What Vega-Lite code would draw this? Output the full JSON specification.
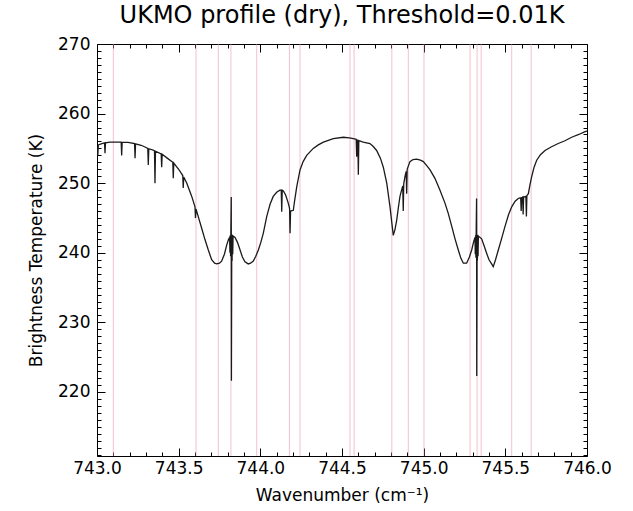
{
  "$schema": "https://vega.github.io/schema/vega-lite/v6.json",
  "width": 490,
  "height": 412,
  "autosize": {"type": "none"},
  "padding": {"left": 97, "top": 44, "right": 46, "bottom": 55},
  "background": "white",
  "title": {"text": "UKMO profile (dry), Threshold=0.01K", "font": "DejaVu Sans", "fontSize": 24, "fontWeight": "normal", "color": "black", "anchor": "middle", "offset": 7},
  "config": {"view": {"stroke": null}},
  "datasets": {
    "channels": [
      {"wn": 743.10}, {"wn": 743.606}, {"wn": 743.743}, {"wn": 743.82}, {"wn": 743.978},
      {"wn": 744.178}, {"wn": 744.243}, {"wn": 744.549}, {"wn": 744.574}, {"wn": 744.805},
      {"wn": 744.906}, {"wn": 745.002}, {"wn": 745.284}, {"wn": 745.327}, {"wn": 745.352},
      {"wn": 745.539}, {"wn": 745.658}
    ],
    "spectrum": [
      {"wn": 743.000, "bt": 253.8}, {"wn": 743.003, "bt": 255.2}, {"wn": 743.005, "bt": 254.0}, {"wn": 743.008, "bt": 255.5},
      {"wn": 743.030, "bt": 255.7}, {"wn": 743.046, "bt": 255.8}, {"wn": 743.049, "bt": 254.3}, {"wn": 743.052, "bt": 255.8},
      {"wn": 743.080, "bt": 255.9}, {"wn": 743.110, "bt": 255.9}, {"wn": 743.148, "bt": 255.9}, {"wn": 743.151, "bt": 254.0},
      {"wn": 743.154, "bt": 255.9}, {"wn": 743.190, "bt": 255.85}, {"wn": 743.230, "bt": 255.7}, {"wn": 743.233, "bt": 253.6},
      {"wn": 743.236, "bt": 255.65}, {"wn": 743.270, "bt": 255.45}, {"wn": 743.294, "bt": 255.2}, {"wn": 743.311, "bt": 255.0},
      {"wn": 743.314, "bt": 252.6}, {"wn": 743.317, "bt": 254.95}, {"wn": 743.340, "bt": 254.8}, {"wn": 743.352, "bt": 254.65},
      {"wn": 743.355, "bt": 250.0}, {"wn": 743.358, "bt": 254.6}, {"wn": 743.393, "bt": 254.2}, {"wn": 743.396, "bt": 252.3},
      {"wn": 743.399, "bt": 254.15}, {"wn": 743.430, "bt": 253.6}, {"wn": 743.464, "bt": 253.0}, {"wn": 743.467, "bt": 250.7},
      {"wn": 743.470, "bt": 252.9}, {"wn": 743.500, "bt": 252.0}, {"wn": 743.525, "bt": 251.1}, {"wn": 743.528, "bt": 249.3},
      {"wn": 743.531, "bt": 250.9}, {"wn": 743.550, "bt": 250.0}, {"wn": 743.580, "bt": 248.1}, {"wn": 743.600, "bt": 246.6},
      {"wn": 743.603, "bt": 245.0}, {"wn": 743.606, "bt": 246.3}, {"wn": 743.620, "bt": 245.2}, {"wn": 743.640, "bt": 243.6},
      {"wn": 743.661, "bt": 241.9}, {"wn": 743.680, "bt": 240.5}, {"wn": 743.702, "bt": 239.0}, {"wn": 743.720, "bt": 238.5},
      {"wn": 743.733, "bt": 238.4}, {"wn": 743.750, "bt": 238.5}, {"wn": 743.763, "bt": 238.8}, {"wn": 743.780, "bt": 239.8},
      {"wn": 743.794, "bt": 241.1}, {"wn": 743.805, "bt": 241.9}, {"wn": 743.812, "bt": 242.2},
      {"wn": 743.814, "bt": 240.0}, {"wn": 743.816, "bt": 242.5}, {"wn": 743.818, "bt": 239.5}, {"wn": 743.820, "bt": 244.0},
      {"wn": 743.822, "bt": 248.0}, {"wn": 743.823, "bt": 221.6}, {"wn": 743.825, "bt": 241.5}, {"wn": 743.827, "bt": 238.8},
      {"wn": 743.829, "bt": 242.6}, {"wn": 743.831, "bt": 239.8}, {"wn": 743.833, "bt": 242.4},
      {"wn": 743.845, "bt": 242.2}, {"wn": 743.860, "bt": 241.5}, {"wn": 743.876, "bt": 240.4}, {"wn": 743.890, "bt": 239.4},
      {"wn": 743.906, "bt": 238.7}, {"wn": 743.926, "bt": 238.4}, {"wn": 743.940, "bt": 238.5}, {"wn": 743.957, "bt": 238.8},
      {"wn": 743.972, "bt": 239.5}, {"wn": 743.988, "bt": 240.4}, {"wn": 744.003, "bt": 241.5}, {"wn": 744.018, "bt": 242.8},
      {"wn": 744.039, "bt": 245.2}, {"wn": 744.060, "bt": 247.0}, {"wn": 744.079, "bt": 248.1}, {"wn": 744.100, "bt": 248.7},
      {"wn": 744.120, "bt": 249.0}, {"wn": 744.128, "bt": 249.0}, {"wn": 744.131, "bt": 245.9}, {"wn": 744.134, "bt": 249.0},
      {"wn": 744.141, "bt": 248.9}, {"wn": 744.155, "bt": 248.3}, {"wn": 744.170, "bt": 247.2}, {"wn": 744.179, "bt": 246.4},
      {"wn": 744.182, "bt": 242.8}, {"wn": 744.185, "bt": 246.0}, {"wn": 744.202, "bt": 246.1}, {"wn": 744.210, "bt": 247.5},
      {"wn": 744.223, "bt": 249.5}, {"wn": 744.243, "bt": 251.9}, {"wn": 744.262, "bt": 253.1}, {"wn": 744.284, "bt": 254.0},
      {"wn": 744.324, "bt": 255.0}, {"wn": 744.355, "bt": 255.5}, {"wn": 744.386, "bt": 255.9}, {"wn": 744.447, "bt": 256.4},
      {"wn": 744.508, "bt": 256.6}, {"wn": 744.545, "bt": 256.5}, {"wn": 744.569, "bt": 256.4}, {"wn": 744.587, "bt": 256.3},
      {"wn": 744.590, "bt": 253.8}, {"wn": 744.593, "bt": 256.2}, {"wn": 744.597, "bt": 256.2}, {"wn": 744.600, "bt": 251.2},
      {"wn": 744.603, "bt": 256.1}, {"wn": 744.630, "bt": 255.9}, {"wn": 744.671, "bt": 255.7}, {"wn": 744.690, "bt": 255.3},
      {"wn": 744.712, "bt": 254.7}, {"wn": 744.735, "bt": 253.6}, {"wn": 744.753, "bt": 252.3}, {"wn": 744.774, "bt": 250.0},
      {"wn": 744.794, "bt": 246.6}, {"wn": 744.805, "bt": 244.3}, {"wn": 744.814, "bt": 242.5}, {"wn": 744.825, "bt": 243.4},
      {"wn": 744.835, "bt": 244.7}, {"wn": 744.845, "bt": 246.5}, {"wn": 744.855, "bt": 248.1}, {"wn": 744.866, "bt": 249.1},
      {"wn": 744.872, "bt": 249.6}, {"wn": 744.875, "bt": 246.0}, {"wn": 744.878, "bt": 249.9}, {"wn": 744.886, "bt": 251.0},
      {"wn": 744.893, "bt": 251.7}, {"wn": 744.896, "bt": 248.5}, {"wn": 744.899, "bt": 252.0}, {"wn": 744.916, "bt": 253.1},
      {"wn": 744.935, "bt": 253.4}, {"wn": 744.957, "bt": 253.45}, {"wn": 744.980, "bt": 253.3}, {"wn": 744.998, "bt": 253.1},
      {"wn": 745.020, "bt": 252.5}, {"wn": 745.039, "bt": 251.9}, {"wn": 745.069, "bt": 250.7}, {"wn": 745.100, "bt": 249.0},
      {"wn": 745.131, "bt": 247.1}, {"wn": 745.150, "bt": 245.7}, {"wn": 745.172, "bt": 243.8}, {"wn": 745.192, "bt": 242.0},
      {"wn": 745.212, "bt": 240.4}, {"wn": 745.228, "bt": 239.2}, {"wn": 745.243, "bt": 238.5}, {"wn": 745.263, "bt": 238.5},
      {"wn": 745.280, "bt": 239.4}, {"wn": 745.294, "bt": 240.4}, {"wn": 745.306, "bt": 241.6}, {"wn": 745.314, "bt": 242.2},
      {"wn": 745.316, "bt": 239.8}, {"wn": 745.318, "bt": 242.5}, {"wn": 745.320, "bt": 239.3}, {"wn": 745.322, "bt": 244.0},
      {"wn": 745.324, "bt": 247.8}, {"wn": 745.325, "bt": 222.3}, {"wn": 745.327, "bt": 241.5}, {"wn": 745.329, "bt": 238.9},
      {"wn": 745.331, "bt": 242.6}, {"wn": 745.333, "bt": 239.5}, {"wn": 745.335, "bt": 242.4},
      {"wn": 745.355, "bt": 242.0}, {"wn": 745.370, "bt": 241.0}, {"wn": 745.386, "bt": 239.9}, {"wn": 745.400, "bt": 239.0},
      {"wn": 745.416, "bt": 238.4}, {"wn": 745.426, "bt": 238.0}, {"wn": 745.440, "bt": 239.0}, {"wn": 745.457, "bt": 240.4},
      {"wn": 745.478, "bt": 242.1}, {"wn": 745.498, "bt": 243.8}, {"wn": 745.520, "bt": 245.5}, {"wn": 745.539, "bt": 246.6},
      {"wn": 745.560, "bt": 247.4}, {"wn": 745.579, "bt": 247.8}, {"wn": 745.590, "bt": 247.9}, {"wn": 745.594, "bt": 247.9},
      {"wn": 745.597, "bt": 246.0}, {"wn": 745.600, "bt": 247.9}, {"wn": 745.606, "bt": 248.0}, {"wn": 745.609, "bt": 245.5},
      {"wn": 745.612, "bt": 248.0}, {"wn": 745.626, "bt": 248.1}, {"wn": 745.629, "bt": 245.2}, {"wn": 745.632, "bt": 248.2},
      {"wn": 745.641, "bt": 248.5}, {"wn": 745.651, "bt": 249.8}, {"wn": 745.661, "bt": 250.9}, {"wn": 745.676, "bt": 252.3},
      {"wn": 745.692, "bt": 253.3}, {"wn": 745.715, "bt": 254.1}, {"wn": 745.743, "bt": 254.7}, {"wn": 745.780, "bt": 255.2},
      {"wn": 745.824, "bt": 255.7}, {"wn": 745.865, "bt": 256.1}, {"wn": 745.906, "bt": 256.6}, {"wn": 745.950, "bt": 257.0},
      {"wn": 745.988, "bt": 257.4}, {"wn": 746.000, "bt": 257.5}
    ]
  },
  "layer": [
    {
      "data": {"name": "channels"},
      "mark": {"type": "rule", "color": "#e890a4", "strokeWidth": 1, "opacity": 0.55},
      "encoding": {
        "x": {
          "field": "wn", "type": "quantitative",
          "scale": {"domain": [743, 746], "nice": false, "zero": false},
          "axis": {
            "orient": "bottom",
            "values": [743.0,743.1,743.2,743.3,743.4,743.5,743.6,743.7,743.8,743.9,744.0,744.1,744.2,744.3,744.4,744.5,744.6,744.7,744.8,744.9,745.0,745.1,745.2,745.3,745.4,745.5,745.6,745.7,745.8,745.9,746.0],
            "labelExpr": "abs(datum.value*2-round(datum.value*2))<0.001 ? format(datum.value,'.1f') : ''",
            "tickSize": {"condition": {"test": "abs(datum.value*2-round(datum.value*2))<0.001", "value": -8}, "value": -4},
            "labelPadding": 12,
            "labelFlush": false,
            "labelOverlap": false,
            "labelFont": "DejaVu Sans", "labelFontSize": 17, "labelColor": "black",
            "grid": false, "domainColor": "black", "tickColor": "black", "tickWidth": 1,
            "title": "Wavenumber (cm⁻¹)",
            "titleFont": "DejaVu Sans", "titleFontSize": 17, "titleFontWeight": "normal", "titleColor": "black",
            "titlePadding": 7
          }
        }
      }
    },
    {
      "data": {"name": "spectrum"},
      "mark": {"type": "line", "color": "#1a1a1a", "strokeWidth": 1.3, "clip": true},
      "encoding": {
        "x": {"field": "wn", "type": "quantitative", "scale": {"domain": [743, 746], "nice": false, "zero": false}, "axis": null},
        "y": {
          "field": "bt", "type": "quantitative",
          "scale": {"domain": [210.8, 270], "nice": false, "zero": false},
          "axis": {
            "orient": "left",
            "values": [211,212,213,214,215,216,217,218,219,220,221,222,223,224,225,226,227,228,229,230,231,232,233,234,235,236,237,238,239,240,241,242,243,244,245,246,247,248,249,250,251,252,253,254,255,256,257,258,259,260,261,262,263,264,265,266,267,268,269,270],
            "labelExpr": "datum.value % 10 == 0 ? format(datum.value,'d') : ''",
            "tickSize": {"condition": {"test": "datum.value % 10 == 0", "value": -8}, "value": -4},
            "labelPadding": 15,
            "labelOverlap": false,
            "labelFlush": false,
            "labelFont": "DejaVu Sans", "labelFontSize": 17, "labelColor": "black",
            "grid": false, "domainColor": "black", "tickColor": "black", "tickWidth": 1,
            "title": "Brightness Temperature (K)",
            "titleFont": "DejaVu Sans", "titleFontSize": 17, "titleFontWeight": "normal", "titleColor": "black",
            "titlePadding": 12
          }
        }
      }
    },
    {
      "data": {"name": "spectrum"},
      "mark": {"type": "line", "opacity": 0},
      "encoding": {
        "x": {
          "field": "wn", "type": "quantitative",
          "scale": {"domain": [743, 746], "nice": false, "zero": false},
          "axis": {
            "orient": "top",
            "values": [743.0,743.1,743.2,743.3,743.4,743.5,743.6,743.7,743.8,743.9,744.0,744.1,744.2,744.3,744.4,744.5,744.6,744.7,744.8,744.9,745.0,745.1,745.2,745.3,745.4,745.5,745.6,745.7,745.8,745.9,746.0],
            "labels": false, "title": null, "grid": false,
            "tickSize": {"condition": {"test": "abs(datum.value*2-round(datum.value*2))<0.001", "value": -8}, "value": -4},
            "domainColor": "black", "tickColor": "black", "tickWidth": 1
          }
        },
        "y": {
          "field": "bt", "type": "quantitative",
          "scale": {"domain": [210.8, 270], "nice": false, "zero": false},
          "axis": {
            "orient": "right",
            "values": [211,212,213,214,215,216,217,218,219,220,221,222,223,224,225,226,227,228,229,230,231,232,233,234,235,236,237,238,239,240,241,242,243,244,245,246,247,248,249,250,251,252,253,254,255,256,257,258,259,260,261,262,263,264,265,266,267,268,269,270],
            "labels": false, "title": null, "grid": false,
            "tickSize": {"condition": {"test": "datum.value % 10 == 0", "value": -8}, "value": -4},
            "domainColor": "black", "tickColor": "black", "tickWidth": 1
          }
        }
      }
    }
  ],
  "resolve": {"axis": {"x": "independent", "y": "independent"}}
}
